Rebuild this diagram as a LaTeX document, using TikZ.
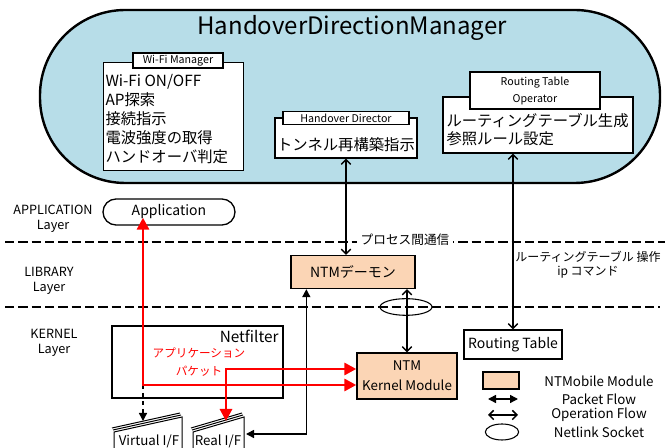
\documentclass[tikz,border=0pt]{standalone}
\usepackage{fontspec}
\setmainfont{Noto Sans CJK JP}
\usetikzlibrary{arrows.meta,shapes.geometric}
\definecolor{hdmblue}{RGB}{183,221,232}
\definecolor{ntmpeach}{RGB}{251,213,181}
\definecolor{pktred}{RGB}{255,0,0}
\tikzset{every picture/.style={line width=0.75pt}}
\tikzset{
  mbox/.style={draw, fill=white, line width=1pt, inner sep=0pt},
  lblbox/.style={draw, fill=white, line width=1pt, align=center, font=\fontsize{8}{12.75}\selectfont, inner xsep=4pt, inner ysep=1.5pt},
  ntmbox/.style={draw, fill=ntmpeach, line width=1pt, align=center},
  layertxt/.style={align=center, font=\fontsize{9.5}{11.5}\selectfont},
  layerline/.style={line width=2pt, dash pattern=on 7pt off 3pt},
  opflow/.style={line width=1.1pt, {Straight Barb[length=3.5pt,width=7pt]}-{Straight Barb[length=3.5pt,width=7pt]}},
  pktflow/.style={line width=1.1pt, {Triangle[length=6pt,width=6pt]}-{Triangle[length=6pt,width=6pt]}},
  redflow/.style={pktred, line width=2.2pt, {Triangle[length=9pt,width=9pt]}-{Triangle[length=9pt,width=9pt]}}
}

\begin{document}
\begin{tikzpicture}[x=0.75pt,y=0.75pt,yscale=-1,xscale=1]
    \useasboundingbox (0,0) rectangle (665,448);
    %Shape: Rounded Rect [id:hdm]
    \draw [fill=hdmblue, line width=1.8pt, rounded corners=64pt] (40,10) rectangle (660,183) ;
    % Text Node
    \node (title) at (352,28) [font=\fontsize{18}{20}\selectfont] {HandoverDirectionManager};

    %Shape: Rectangle [id:wifi]
    \node (wifi) at (103,62) [mbox, anchor=north west, minimum width=105pt, minimum height=81pt] {};
    \node (wifilbl) at (178,60.5) [lblbox, minimum width=67.5pt] {Wi-Fi Manager};
    % Text Node
    \node (wifitxt) at (105,74) [anchor=north west, inner sep=0pt, align=left, font=\fontsize{11.5}{14.3}\selectfont] {Wi-Fi ON/OFF\\AP探索\\接続指示\\電波強度の取得\\ハンドオーバ判定};

    %Shape: Rectangle [id:hdir]
    \node (hdir) at (346,138) [mbox, minimum width=106.5pt, minimum height=30pt] {};
    \node (hdirlbl) at (346,118) [lblbox, minimum width=94.5pt] {Handover Director};
    % Text Node
    \node (hdirtxt) at (346,145) [font=\fontsize{11.5}{14}\selectfont] {トンネル再構築指示};

    %Shape: Rectangle [id:rto]
    \node (rto) at (538,125) [mbox, minimum width=142.5pt, minimum height=42pt] {};
    \node (rtolbl) at (535,90.5) [lblbox, minimum width=97.5pt, minimum height=27.75pt] {Routing Table\\Operator};
    % Text Node
    \node (rtotxt) at (446,113) [anchor=north west, inner sep=0pt, align=left, font=\fontsize{11.5}{13.5}\selectfont] {ルーティングテーブル生成\\参照ルール設定};

    %Layer labels
    \node (applayer) at (53,219) [layertxt] {APPLICATION\\Layer};
    \node (liblayer) at (49,281) [layertxt] {LIBRARY\\Layer};
    \node (kerlayer) at (54,343) [layertxt] {KERNEL\\Layer};

    %Straight Lines [id:layer1]
    \draw [layerline] (5,242) -- (665,242) ;
    %Straight Lines [id:layer2]
    \draw [layerline] (5,307) -- (660,307) ;
    % Text Node
    \node (ipc) at (405,240) [fill=white, inner xsep=3pt, inner ysep=1pt, font=\fontsize{9.5}{11}\selectfont] {プロセス間通信};

    %Shape: Rounded Rect [id:app]
    \node (app) at (169,212) [draw, line width=1pt, rounded corners=9.75pt, minimum width=99pt, minimum height=19.5pt, font=\fontsize{10.5}{12}\selectfont] {Application};

    %Shape: Rectangle [id:daemon]
    \node (daemon) at (353,272) [ntmbox, minimum width=93pt, minimum height=24.75pt, font=\fontsize{10.5}{12}\selectfont] {NTMデーモン};

    %Shape: Rectangle [id:kernel]
    \node (kernel) at (407,376) [ntmbox, minimum width=75pt, minimum height=34.5pt, font=\fontsize{10}{15}\selectfont] {NTM\\Kernel Module};

    %Shape: Rectangle [id:rtable]
    \node (rtable) at (513,344.5) [mbox, minimum width=73.5pt, minimum height=21.75pt, font=\fontsize{10.5}{12}\selectfont] {Routing Table};

    %Shape: Ellipse [id:netlink]
    \node (netlink) at (406,307) [draw, ellipse, line width=0.8pt, minimum width=39pt, minimum height=12.5pt, inner sep=0pt] {};

    %Shape: Rectangle [id:netf]
    \node (netf) at (197.5,362) [draw, line width=0.8pt, minimum width=128.25pt, minimum height=54pt] {};
    \node (netflbl) at (279,330) [anchor=north east, inner sep=0pt, font=\fontsize{11.5}{12}\selectfont] {Netfilter};
    % Text Node
    \node (apppkt) at (199,362) [pktred, align=center, font=\fontsize{8.7}{13.5}\selectfont] {アプリケーション\\パケット};

    %Shape: Pages [id:virtif]
    \draw (112,428) -- (180,413) ;
    \draw (113,430) -- (181,415) ;
    \draw [fill=white] (114,460) -- (114,432) -- (182,417) -- (182,460) ;
    \node (virtif) at (149,441) [font=\fontsize{10}{12}\selectfont] {Virtual I/F};
    %Shape: Pages [id:realif]
    \draw (191,428) -- (242,413) ;
    \draw (192,430) -- (243,415) ;
    \draw [fill=white] (193,460) -- (193,432) -- (244,417) -- (244,460) ;
    \node (realif) at (218,441) [font=\fontsize{10}{12}\selectfont] {Real I/F};

    \coordinate (redturn) at (143,385) ;
    \coordinate (realturn) at (226,369) ;
    \coordinate (virttop) at (143,421) ;
    \coordinate (realtop) at (226,421) ;
    \coordinate (realport) at (246,434) ;

    %Operation flows
    \draw [opflow] (hdir.south) -- (hdir.south |- daemon.north) ;
    \draw [opflow] (rtable.north |- rto.south) -- (rtable.north) ;
    \draw [opflow] (kernel.north |- daemon.south) -- (kernel.north) ;
    % Text Node
    \node (rtcmd) at (588,265) [align=center, font=\fontsize{9}{10.5}\selectfont] {ルーティングテーブル 操作\\ip コマンド};

    %Packet flows
    \draw [pktflow] (realport) -| ([xshift=12pt]daemon.south west) ;
    \draw [line width=1.1pt, dashed, -{Triangle[length=6pt,width=6pt]}] (redturn) -- (virttop) ;
    \draw [redflow] ([yshift=-6pt]app.south -| redturn) -- (redturn) -- (redturn -| kernel.west) ;
    \draw [redflow] (realtop) -- (realturn) -- (realturn -| kernel.west) ;

    %Legend
    \node (legbox) at (501,380.5) [ntmbox, minimum width=27pt, minimum height=12.75pt] {};
    \node (legntm) at (599,381) [font=\fontsize{10}{12}\selectfont] {NTMobile Module};
    \coordinate (legpa) at (488,399) ;
    \coordinate (legpb) at (518,399) ;
    \draw [pktflow] (legpa) -- (legpb) ;
    \node (legpkt) at (599,399) [font=\fontsize{10}{12}\selectfont] {Packet Flow};
    \coordinate (legoa) at (488,415) ;
    \coordinate (legob) at (518,415) ;
    \draw [opflow] (legoa) -- (legob) ;
    \node (legop) at (599,415) [font=\fontsize{10}{12}\selectfont] {Operation Flow};
    \node (legsock) at (502,432) [draw, ellipse, line width=0.8pt, minimum width=25pt, minimum height=12pt, inner sep=0pt] {};
    \node (legnl) at (599,432) [font=\fontsize{10}{12}\selectfont] {Netlink Socket};
\end{tikzpicture}
\end{document}
